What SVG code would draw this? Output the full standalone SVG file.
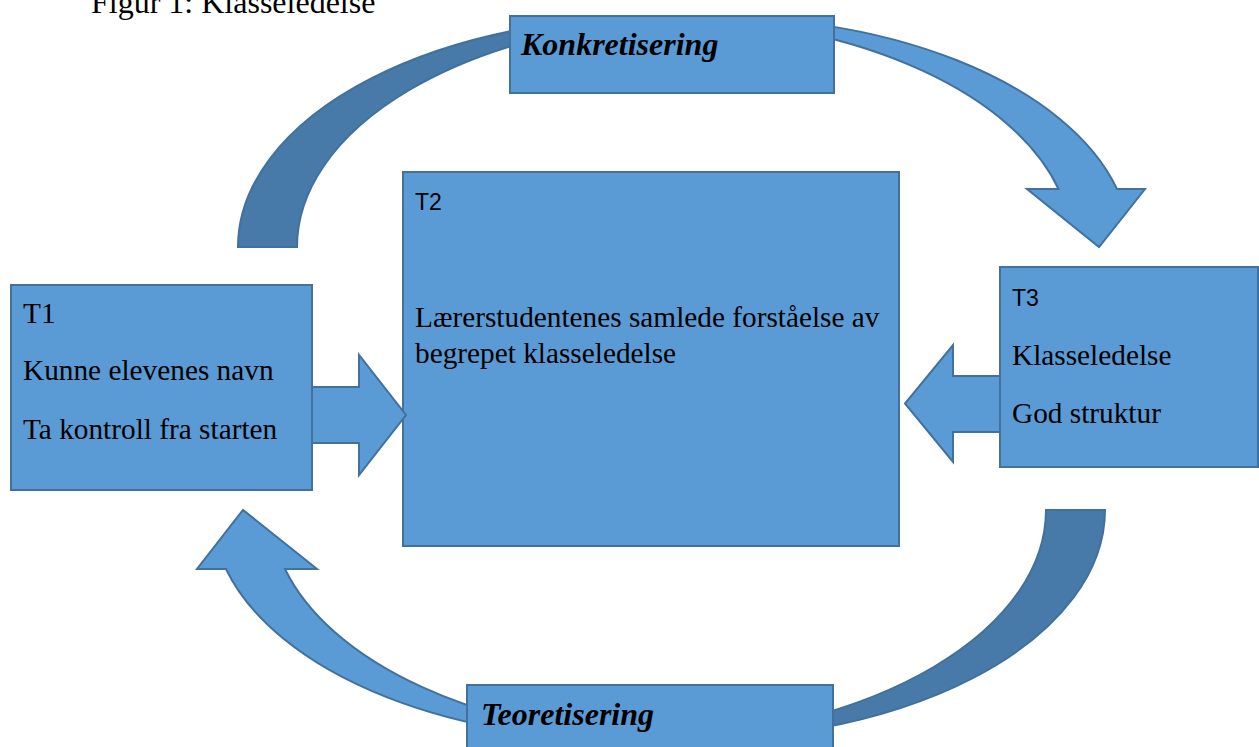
<svg xmlns="http://www.w3.org/2000/svg" width="1259" height="747" viewBox="0 0 1259 747">
<style>
  .box { fill: #5B9BD5; stroke: #41719C; stroke-width: 2; }
  .light { fill: #5B9BD5; stroke: #41719C; stroke-width: 2; stroke-linejoin: miter; }
  .dark { fill: #477AA8; stroke: #41719C; stroke-width: 2; }
  .serif { font-family: "Liberation Serif", "Times New Roman", serif; font-size: 29.3px; fill: #000; }
  .sans { font-family: "Liberation Sans", Arial, sans-serif; font-size: 23px; fill: #000; }
  .label { font-family: "Liberation Serif", "Times New Roman", serif; font-size: 32px; font-weight: bold; font-style: italic; fill: #000; }
  .title { font-family: "Liberation Serif", "Times New Roman", serif; font-size: 32px; fill: #000; }
</style>
<rect width="1259" height="747" fill="#FFFFFF"/>
<text class="title" x="91" y="13">Figur 1: Klasseledelse</text>

<g id="connectors">
  <!-- top curved arrow: Konkretisering (T1 -> T3) -->
  <path class="dark" d="M238,247 A417,230 0 0 1 684.5,17.6 A417,230 0 0 0 297,247 Z"/>
  <path class="light" d="M684.5,17.6 A417,230 0 0 1 1117,189 L1145,189 L1099,247 L1027,189 L1058.5,189 A417,230 0 0 0 684.5,17.6 Z"/>
  <!-- bottom curved arrow: Teoretisering (T3 -> T1) -->
  <path class="dark" d="M1105,510 A417,230 0 0 1 658.5,739.4 A417,230 0 0 0 1046,510 Z"/>
  <path class="light" d="M658.5,739.4 A417,230 0 0 1 226,569 L197,569 L243,510 L317,569 L285,569 A417,230 0 0 0 658.5,739.4 Z"/>
</g>

<g id="konkretisering">
  <rect class="box" x="510" y="16" width="324" height="77"/>
  <text class="label" x="521" y="55">Konkretisering</text>
</g>

<g id="teoretisering">
  <rect class="box" x="467" y="685" width="366" height="70"/>
  <text class="label" x="481" y="725">Teoretisering</text>
</g>

<g id="t1">
  <rect class="box" x="11" y="285" width="301" height="205"/>
  <text class="serif" x="23" y="323">T1</text>
  <text class="serif" x="23" y="380">Kunne elevenes navn</text>
  <text class="serif" x="23" y="439">Ta kontroll fra starten</text>
</g>

<g id="t2">
  <rect class="box" x="403" y="172" width="496" height="374"/>
  <text class="sans" x="415" y="210">T2</text>
  <text class="serif" x="415" y="327">Lærerstudentenes samlede forståelse av</text>
  <text class="serif" x="415" y="363">begrepet klasseledelse</text>
</g>

<g id="t3">
  <rect class="box" x="1000" y="267" width="258" height="200"/>
  <text class="sans" x="1012" y="306">T3</text>
  <text class="serif" x="1012" y="365">Klasseledelse</text>
  <text class="serif" x="1012" y="423">God struktur</text>
</g>

<g id="block-arrows">
  <path class="light" d="M312,387 L359,387 L359,355 L406,415 L359,475 L359,443 L312,443 Z"/>
  <path class="light" d="M1000,376 L953,376 L953,345 L905,403.5 L953,462 L953,432 L1000,432 Z"/>
</g>
</svg>
